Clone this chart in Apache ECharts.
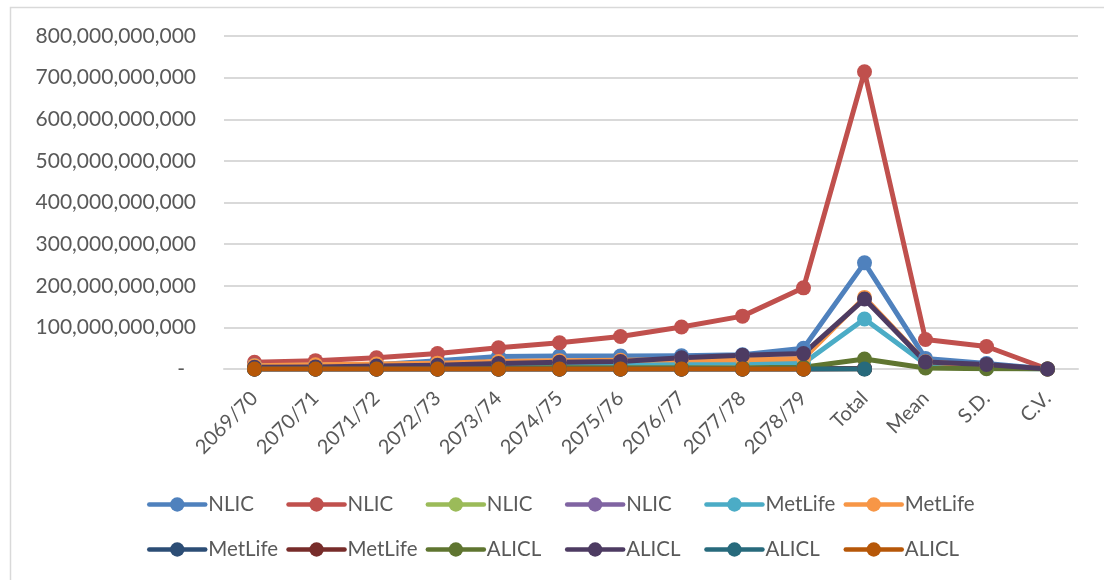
<!DOCTYPE html>
<html>
<head>
<meta charset="utf-8">
<script src="https://cdn.jsdelivr.net/npm/echarts@6/dist/echarts.min.js"></script>
<style>
  html, body { margin: 0; padding: 0; background: #ffffff; }
  #chart { width: 1104px; height: 580px; }
</style>
</head>
<body>
<div id="chart"></div>
<script>
// Fiscal years followed by summary columns
const categories = ['2069/70', '2070/71', '2071/72', '2072/73', '2073/74', '2074/75', '2075/76', '2076/77', '2077/78', '2078/79', 'Total', 'Mean', 'S.D.', 'C.V.'];

// Company label shown in the legend for each series
const seriesLabels = ['NLIC', 'NLIC', 'NLIC', 'NLIC', 'MetLife', 'MetLife', 'MetLife', 'MetLife', 'ALICL', 'ALICL', 'ALICL', 'ALICL'];

// Series values (rupees); C.V. is a ratio
const nlic1 = [5e9, 7e9, 10e9, 20e9, 30e9, 31e9, 31e9, 32e9, 34e9, 50e9, 255e9, 25.5e9, 13e9, 0.5];
const nlic2 = [16e9, 20e9, 27e9, 37e9, 51e9, 63e9, 78e9, 101e9, 127e9, 195e9, 714e9, 71e9, 54e9, 0.76];
const nlic3 = [0.05e9, 0.05e9, 0.06e9, 0.06e9, 0.07e9, 0.07e9, 0.08e9, 0.08e9, 0.09e9, 0.1e9, 0.71e9, null, null, null];
const nlic4 = [0.08e9, 0.09e9, 0.1e9, 0.1e9, 0.11e9, 0.12e9, 0.13e9, 0.14e9, 0.15e9, 0.16e9, 1.18e9, null, null, null];
const metlife1 = [8e9, 9e9, 10e9, 11e9, 12e9, 13e9, 14e9, 14e9, 15e9, 14e9, 120e9, 12e9, 2.3e9, 0.19];
const metlife2 = [8e9, 10e9, 12e9, 14e9, 18e9, 20e9, 21e9, 22e9, 22e9, 25e9, 172e9, 17.2e9, 6.6e9, 0.38];
const metlife3 = [0.02e9, 0.02e9, 0.03e9, 0.03e9, 0.03e9, 0.04e9, 0.04e9, 0.05e9, 0.05e9, 0.06e9, 0.37e9, null, null, null];
const metlife4 = [0.03e9, 0.03e9, 0.04e9, 0.04e9, 0.05e9, 0.05e9, 0.06e9, 0.06e9, 0.07e9, 0.08e9, 0.51e9, null, null, null];
const alicl1 = [1e9, 1e9, 2e9, 2e9, 2e9, 3e9, 3e9, 3e9, 3e9, 4e9, 24e9, 2.4e9, 0.9e9, 0.38];
const alicl2 = [4e9, 5e9, 7e9, 9e9, 13e9, 16e9, 18e9, 27e9, 33e9, 37e9, 168e9, 16.8e9, 11e9, 0.65];
const alicl3 = [0, 0, 0, 0, 0, 0, 0, 0, 0, 0, 0, null, null, null];
const alicl4 = [0, 0, 0, 0, 0, 0, 0, 0, 0, 0, null, null, null, null];

const seriesValues = [nlic1, nlic2, nlic3, nlic4, metlife1, metlife2, metlife3, metlife4, alicl1, alicl2, alicl3, alicl4];
const seriesColors = ['#4F81BD', '#C0504D', '#9BBB59', '#8064A2', '#4BACC6', '#F79646', '#2C4D75', '#772C2A', '#5F7530', '#4D3B62', '#276A7C', '#B65708'];

const FONT = 'Lato, "Open Sans", sans-serif';
const TEXT = '#595959';
const GRID = '#D9D9D9';

// internal series ids stay unique; the legend prints the company label only
const seriesNames = seriesLabels.map((s, i) => s + '#' + (i + 1));

const series = seriesValues.map((vals, i) => ({
  name: seriesNames[i],
  type: 'line',
  data: vals,
  symbol: 'circle',
  symbolSize: 15,
  showSymbol: true,
  connectNulls: false,
  color: seriesColors[i],
  lineStyle: { width: 5, color: seriesColors[i], cap: 'round', join: 'round' },
  itemStyle: { color: seriesColors[i] },
  emphasis: { disabled: true }
}));

// two rows of six fixed-width legend columns
const legends = seriesNames.map((n, i) => ({
  data: [n],
  left: 147 + 139.3 * (i % 6),
  top: i < 6 ? 494 : 539,
  padding: 0,
  itemWidth: 56,
  itemHeight: 18,
  itemGap: 0,
  selectedMode: false,
  formatter: name => name.split('#')[0],
  lineStyle: { width: 4.5, cap: 'round' },
  textStyle: { fontFamily: FONT, fontSize: 20.5, color: TEXT, padding: [0, 0, 0, -2] }
}));

const chart = echarts.init(document.getElementById('chart'), null, { renderer: 'canvas' });
chart.setOption({
  animation: false,
  backgroundColor: '#ffffff',
  graphic: [{
    type: 'rect',
    shape: { x: 10.5, y: 7.5, width: 1110, height: 600 },
    style: { fill: 'none', stroke: GRID, lineWidth: 1.5 },
    silent: true
  }],
  grid: { left: 224, right: 26, top: 36, bottom: 211, containLabel: false },
  legend: legends,
  xAxis: {
    type: 'category',
    data: categories,
    boundaryGap: true,
    axisLine: { lineStyle: { color: GRID, width: 2 } },
    axisTick: { show: false },
    axisLabel: { interval: 0, rotate: 45, margin: 26, fontFamily: FONT, fontSize: 20, color: TEXT }
  },
  yAxis: {
    type: 'value',
    min: 0,
    max: 800e9,
    interval: 100e9,
    axisLine: { show: false },
    axisTick: { show: false },
    splitLine: { lineStyle: { color: GRID, width: 2 } },
    axisLabel: {
      margin: 28,
      fontFamily: FONT,
      fontSize: 21,
      color: TEXT,
      formatter: v => v === 0 ? '{d|-}' : v.toLocaleString('en-US'),
      rich: { d: { fontFamily: FONT, fontSize: 21, color: TEXT, padding: [0, 11, 0, 0] } }
    }
  },
  series: series
});
</script>
</body>
</html>
